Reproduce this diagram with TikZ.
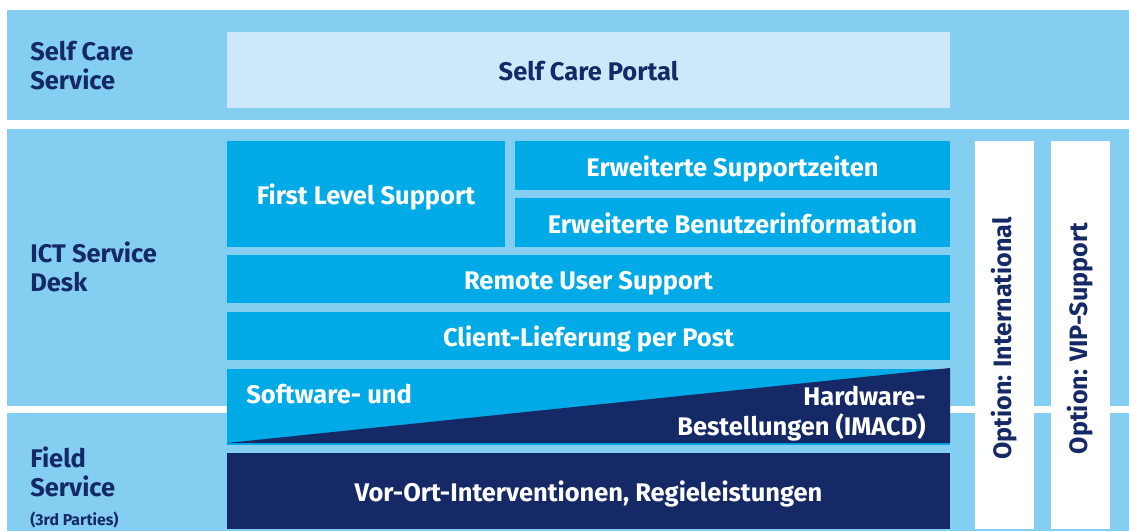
\documentclass[tikz,border=0pt]{standalone}
\usepackage{fontspec}
\setmainfont{Fira Sans}
\usetikzlibrary{positioning}

\definecolor{bandblue}{HTML}{84CEF1}
\definecolor{portalblue}{HTML}{CDE8F9}
\definecolor{boxcyan}{HTML}{00AAE7}
\definecolor{navy}{HTML}{152966}

\begin{document}
\begin{tikzpicture}[x=0.02cm, y=-0.02cm,
    label/.style = {anchor=west, align=left, text=navy, inner sep=0pt,
                    font=\bfseries\fontsize{14.5}{16.5}\selectfont},
    boxtext/.style = {text=white, inner sep=0pt, text height=13pt, text depth=1pt,
                      font=\bfseries\fontsize{14.5}{17}\selectfont},
    option/.style = {rotate=90, text=navy, inner sep=0pt,
                     font=\bfseries\fontsize{14.3}{17}\selectfont}]
    \useasboundingbox (0,0) rectangle (1129,531);

    % background bands
    \fill[bandblue] (7,10) rectangle (1129,120);
    \fill[bandblue] (7,129) rectangle (1129,406);
    \fill[bandblue] (7,413) rectangle (1129,531);

    % row labels
    \node[label] (selfcare) at (30,66) {Self Care\\Service};
    \node[label] (ictdesk) at (30,267) {ICT Service\\Desk};
    \node[label] (field) at (30,472) {Field\\Service};
    \node[label, anchor=base west, font=\bfseries\fontsize{9}{10}\selectfont] (parties) at (30,525) {(3rd Parties)};

    % portal
    \fill[portalblue] (227,32) rectangle (950,108)
        node[boxtext, text=navy, midway] (portal) {Self Care Portal};

    % service desk boxes
    \fill[boxcyan] (227,141) rectangle (505,247)
        node[boxtext, midway] (firstlevel) {First Level Support};
    \fill[boxcyan] (515,141) rectangle (950,190)
        node[boxtext, midway] (zeiten) {Erweiterte Supportzeiten};
    \fill[boxcyan] (515,198) rectangle (950,247)
        node[boxtext, midway] (info) {Erweiterte Benutzerinformation};
    \fill[boxcyan] (227,255) rectangle (950,303)
        node[boxtext, midway] (remote) {Remote User Support};
    \fill[boxcyan] (227,312) rectangle (950,360)
        node[boxtext, midway] (post) {Client-Lieferung per Post};

    % split box software / hardware
    \fill[boxcyan] (227,369) rectangle (950,445);
    \fill[navy] (227,443) -- (950,368) -- (950,443) -- cycle;
    \node[boxtext, anchor=base west] (software) at (246,403) {Software- und};
    \node[boxtext, anchor=base east] (hardware) at (926,405) {Hardware-};
    \node[boxtext, anchor=base east] (bestellung) at (926,435) {Bestellungen (IMACD)};

    % field service
    \fill[navy] (227,453) rectangle (950,529)
        node[boxtext, midway] (vorort) {Vor-Ort-Interventionen, Regieleistungen};

    % options
    \fill[white] (975,141) rectangle (1034,529)
        node[option, midway, xshift=-2pt] (intl) {Option: International};
    \fill[white] (1051,141) rectangle (1110,529)
        node[option, midway, xshift=-2pt] (vip) {Option: VIP-Support};
\end{tikzpicture}
\end{document}
